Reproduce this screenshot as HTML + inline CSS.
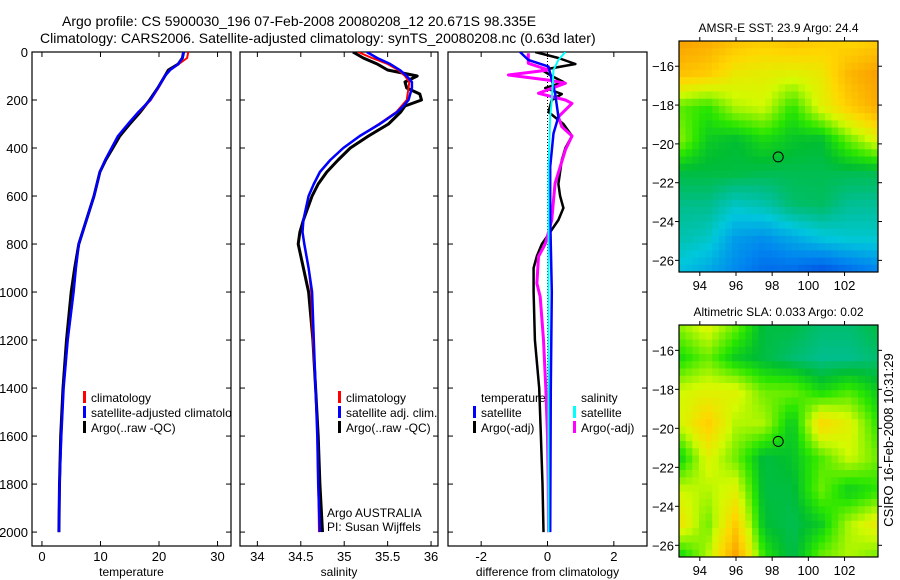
<!DOCTYPE html>
<html><head><meta charset="utf-8">
<style>
html,body{margin:0;padding:0;background:#fff;}
svg{display:block;font-family:"Liberation Sans",sans-serif;}
text{fill:#000;}
</style></head>
<body>
<svg id="fig" width="900" height="580" viewBox="0 0 900 580" xmlns="http://www.w3.org/2000/svg">
<defs>
<clipPath id="c1"><rect x="32" y="52" width="199" height="494"/></clipPath>
<clipPath id="c2"><rect x="240" y="52" width="198" height="494"/></clipPath>
<clipPath id="c3"><rect x="448" y="52" width="199" height="494"/></clipPath>
</defs>
<text x="62" y="26" font-size="14">Argo profile: CS 5900030_196 07-Feb-2008 20080208_12 20.671S 98.335E</text>
<text x="40" y="43" font-size="14">Climatology: CARS2006. Satellite-adjusted climatology: synTS_20080208.nc (0.63d later)</text>
<g id="plots"></g>
<text x="893" y="440" font-size="13" transform="rotate(-90 893 440)" text-anchor="middle">CSIRO 16-Feb-2008 10:31:29</text>
</svg>
<script>
// ---- Profile data ----
const depthT = [0,25,50,75,100,150,200,250,300,350,400,450,500,600,700,800,900,1000,1200,1400,1600,1800,2000];
const tempArgo = [24.2,24.0,23.3,21.6,21.0,19.8,18.4,16.8,15.0,13.3,12.1,10.9,9.9,8.9,7.6,6.3,5.6,5.0,4.2,3.6,3.2,3.0,2.9];
const tempClim = [25.0,24.8,23.4,21.9,21.0,19.9,18.6,16.6,14.7,13.0,11.9,10.8,9.9,8.9,7.6,6.3,5.8,5.4,4.4,3.7,3.3,3.0,2.9];
const tempSat  = [24.2,24.0,23.3,21.9,21.0,19.8,18.5,16.5,14.7,13.0,11.9,10.8,9.9,8.9,7.6,6.3,5.8,5.4,4.4,3.7,3.3,3.0,2.9];
const depthS = [0,25,50,75,100,125,150,175,200,225,250,300,350,400,450,500,550,600,700,750,800,900,1000,1200,1400,1600,1800,2000];
const salArgo = [35.10,35.22,35.38,35.50,35.84,35.70,35.72,35.87,35.89,35.70,35.65,35.51,35.28,35.07,34.93,34.80,34.70,34.63,34.53,34.49,34.47,34.53,34.59,34.64,34.67,34.70,34.72,34.75];
const salClim = [35.16,35.32,35.50,35.62,35.70,35.75,35.74,35.73,35.72,35.66,35.60,35.40,35.18,34.99,34.84,34.72,34.65,34.59,34.53,34.52,34.54,34.59,34.62,34.64,34.67,34.69,34.70,34.71];
const salSat  = [35.26,35.38,35.53,35.64,35.72,35.78,35.78,35.76,35.74,35.68,35.61,35.41,35.18,34.99,34.84,34.72,34.65,34.59,34.53,34.52,34.54,34.59,34.63,34.65,34.67,34.69,34.70,34.72];
const depthDT = [0,25,50,75,100,125,150,175,200,250,300,350,400,450,550,600,650,700,750,800,850,900,1000,1200,1400,1600,1800,2000];
const diffTArgo = [-0.37,0.33,0.84,-0.17,0.13,0.48,-0.07,0.43,0.13,0.03,0.48,0.74,0.54,0.43,0.33,0.38,0.48,0.33,0.08,-0.17,-0.32,-0.42,-0.42,-0.38,-0.25,-0.2,-0.15,-0.12];
const depthDS = [5,47,75,96,117,130,172,200,214,270,311,350,408,547,617,700,800,852,964,1020,1200,1400,1600,1800,2000];
const diffSArgo = [-0.58,-0.58,0.03,-1.18,0.03,0.54,-0.27,0.54,0.74,0.33,0.43,0.74,0.54,0.23,0.18,0.13,-0.07,-0.27,-0.32,-0.22,-0.12,-0.05,0.0,0.02,0.03];
const depthDTS = [0,33,61,172,270,339,478,686,1000,1400,2000];
const diffTSat  = [-0.83,-0.58,0.03,0.23,0.33,0.18,0.08,0.08,0.13,0.1,0.08];
const depthDSS = [0,33,75,200,270,478,1000,1400,2000];
const diffSSat  = [0.54,0.33,0.18,0.13,0.08,0.03,0.03,0.03,0.03];
const depthTicks = [0,200,400,600,800,1000,1200,1400,1600,1800,2000];
const tempTicks = [0,10,20,30];
const salTicks = [34,34.5,35,35.5,36];
const diffTicks = [-2,0,2];
// ---- Map data (normalised colour values 0..1) ----
const sstGrid = [
 [0.80,0.78,0.74,0.72,0.74,0.72,0.70,0.72],
 [0.74,0.72,0.66,0.65,0.64,0.66,0.76,0.80],
 [0.55,0.52,0.60,0.62,0.52,0.64,0.72,0.78],
 [0.58,0.48,0.46,0.50,0.47,0.46,0.56,0.64],
 [0.45,0.45,0.45,0.44,0.44,0.44,0.44,0.44],
 [0.40,0.40,0.35,0.37,0.42,0.43,0.39,0.39],
 [0.37,0.35,0.26,0.24,0.28,0.32,0.34,0.34],
 [0.32,0.28,0.23,0.18,0.18,0.14,0.18,0.22]];
const slaGrid = [
 [0.58,0.64,0.56,0.45,0.45,0.42,0.42,0.45],
 [0.50,0.56,0.48,0.45,0.42,0.40,0.40,0.42],
 [0.62,0.64,0.64,0.56,0.56,0.50,0.54,0.48],
 [0.62,0.72,0.60,0.60,0.47,0.70,0.64,0.52],
 [0.48,0.64,0.56,0.45,0.47,0.54,0.62,0.56],
 [0.62,0.60,0.64,0.45,0.45,0.56,0.48,0.52],
 [0.68,0.56,0.72,0.46,0.44,0.48,0.60,0.66],
 [0.48,0.60,0.80,0.52,0.44,0.56,0.60,0.56]];
const lonTicks = [94,96,98,100,102];
const latTicks = [-16,-18,-20,-22,-24,-26];
const argoLon = 98.335, argoLat = -20.671;

const NS = "http://www.w3.org/2000/svg";
const root = document.getElementById('plots');
function mk(tag, attrs, parent){const e=document.createElementNS(NS,tag);for(const k in attrs)e.setAttribute(k,attrs[k]);(parent||root).appendChild(e);return e;}
function txt(x,y,s,size,anchor,parent){const t=mk('text',{x:x,y:y,'font-size':size,'text-anchor':anchor||'start'},parent);t.textContent=s;return t;}

const Y0=52,Y1=546,DMAX=2058;
const yD = d => Y0 + d/DMAX*(Y1-Y0);

function panel(name,x0,x1,xmin,xmax,ticks,xlabel,clip,showY){
  const xs = v => x0 + (v-xmin)/(xmax-xmin)*(x1-x0);
  const g = mk('g',{});
  
  
  const fr = mk('rect',{x:x0,y:Y0,width:x1-x0,height:Y1-Y0,fill:'none',stroke:'#000','stroke-width':1.2},g);
  
  
  depthTicks.forEach(d=>{
    const y=yD(d);
    mk('line',{x1:x0,x2:x0+5,y1:y,y2:y,stroke:'#000'},g);
    mk('line',{x1:x1-5,x2:x1,y1:y,y2:y,stroke:'#000'},g);
    if(showY){const t=txt(x0-4,y+5,String(d),13,'end',g);
      
      }
  });
  ticks.forEach(v=>{
    const x=xs(v);
    mk('line',{x1:x,x2:x,y1:Y1,y2:Y1-5,stroke:'#000'},g);
    mk('line',{x1:x,x2:x,y1:Y0,y2:Y0+5,stroke:'#000'},g);
    const t=txt(x,Y1+15,String(v),13,'middle',g);
    
    
  });
  const xl=txt((x0+x1)/2,Y1+30,xlabel,12,'middle',g);
  
  
  return {g:g,xs:xs,clip:clip};
}
function line(p,depths,vals,color,w,name){
  const pts=depths.map((d,i)=>p.xs(vals[i]).toFixed(1)+','+yD(d).toFixed(1)).join(' ');
  const l=mk('polyline',{points:pts,fill:'none',stroke:color,'stroke-width':w,'clip-path':'url(#'+p.clip+')','stroke-linejoin':'round'},p.g);
  
  
}
function legend(g,x,y,items){
  items.forEach((it,i)=>{
    const yy=y+i*15;
    if(it.c){const m=mk('rect',{x:x,y:yy-6,width:3,height:12,fill:it.c},g);
      
      }
    const t=txt(x+8,yy+5,it.t,12,'start',g);
    
    
  });
}

// Panel 1
const p1=panel('temperature-panel',32,231,-1.7,32.3,tempTicks,'temperature','c1',true);
line(p1,depthT,tempArgo,'#000',3,'argo-temperature-line');
line(p1,depthT,tempClim,'#f00',2,'climatology-temperature-line');
line(p1,depthT,tempSat,'#00f',2.5,'satellite-temperature-line');
const lg1=mk('g',{'clip-path':'url(#c1)'},p1.g);


legend(lg1,83,397,[{c:'#f00',t:'climatology'},{c:'#00f',t:'satellite-adjusted climatology'},{c:'#000',t:'Argo(..raw -QC)'}]);

// Panel 2
const p2=panel('salinity-panel',240,438,33.8,36.08,salTicks,'salinity','c2',false);
line(p2,depthS,salArgo,'#000',3,'argo-salinity-line');
line(p2,depthS,salClim,'#f00',2,'climatology-salinity-line');
line(p2,depthS,salSat,'#00f',2.5,'satellite-salinity-line');
const lg2=mk('g',{},p2.g);


legend(lg2,338,397,[{c:'#f00',t:'climatology'},{c:'#00f',t:'satellite adj. clim.'},{c:'#000',t:'Argo(..raw -QC)'}]);
const a1=txt(327,517,'Argo AUSTRALIA',12,'start',p2.g);


const a2=txt(327,531,'PI: Susan Wijffels',12,'start',p2.g);



// Panel 3
const p3=panel('difference-panel',448,647,-3,3,diffTicks,'difference from climatology','c3',false);
mk('line',{x1:p3.xs(0),x2:p3.xs(0),y1:Y0,y2:yD(2000),stroke:'#000','stroke-dasharray':'1,2'},p3.g);
line(p3,depthDT,diffTArgo,'#000',2.5,'argo-temp-diff-line');
line(p3,depthDS,diffSArgo,'#f0f',3,'argo-sal-diff-line');
line(p3,depthDTS,diffTSat,'#00f',2.5,'satellite-temp-diff-line');
line(p3,depthDSS,diffSSat,'#0ff',2,'satellite-sal-diff-line');
const lg3=mk('g',{},p3.g);


legend(lg3,473,397,[{t:'temperature'},{c:'#00f',t:'satellite'},{c:'#000',t:'Argo(-adj)'}]);
legend(lg3,573,397,[{t:'salinity'},{c:'#0ff',t:'satellite'},{c:'#f0f',t:'Argo(-adj)'}]);

// ---- Maps ----
function jet(v){
  const stops=[[0.10,[0,60,220]],[0.22,[0,130,240]],[0.33,[0,200,220]],[0.40,[0,190,140]],[0.46,[0,190,50]],[0.52,[40,230,0]],[0.62,[210,250,0]],[0.70,[255,215,0]],[0.80,[250,160,0]],[0.90,[240,110,0]]];
  if(v<=stops[0][0])return stops[0][1];
  for(let i=1;i<stops.length;i++){if(v<=stops[i][0]){const a=stops[i-1],b=stops[i];const t=(v-a[0])/(b[0]-a[0]);return a[1].map((c,k)=>Math.round(c+(b[1][k]-c)*t));}}
  return stops[stops.length-1][1];
}
function sample(grid,u,v){
  const n=grid.length,m=grid[0].length;
  const fx=Math.min(Math.max(u*(m-1),0),m-1),fy=Math.min(Math.max(v*(n-1),0),n-1);
  const i=Math.floor(fy),j=Math.floor(fx),i2=Math.min(i+1,n-1),j2=Math.min(j+1,m-1);
  const ty=fy-i,tx=fx-j;
  return grid[i][j]*(1-tx)*(1-ty)+grid[i][j2]*tx*(1-ty)+grid[i2][j]*(1-tx)*ty+grid[i2][j2]*tx*ty;
}
function map(name,title,grid,x0,y0,x1,y1,titleY){
  const lonMin=92.85,lonMax=103.85;
  const latTop=-14.7,latBot=-26.6;
  const g=mk('g',{});
  
  
  const nx=30,ny=32,cw=(x1-x0)/nx,ch=(y1-y0)/ny;
  for(let r=0;r<ny;r++)for(let c=0;c<nx;c++){
    const col=jet(sample(grid,(c+0.5)/nx,(r+0.5)/ny));
    mk('rect',{x:(x0+c*cw).toFixed(2),y:(y0+r*ch).toFixed(2),width:(cw+0.5).toFixed(2),height:(ch+0.5).toFixed(2),fill:'rgb('+col.join(',')+')'},g);
  }
  mk('rect',{x:x0,y:y0,width:x1-x0,height:y1-y0,fill:'none',stroke:'#000','stroke-width':1.2},g);
  const xs=l=>x0+(l-lonMin)/(lonMax-lonMin)*(x1-x0);
  const ys=l=>y0+(latTop-l)/(latTop-latBot)*(y1-y0);
  lonTicks.forEach(l=>{const x=xs(l);
    mk('line',{x1:x,x2:x,y1:y1,y2:y1+4,stroke:'#000'},g);
    mk('line',{x1:x,x2:x,y1:y0,y2:y0-4,stroke:'#000'},g);
    const t=txt(x,y1+18,String(l),13,'middle',g);
    
    });
  latTicks.forEach(l=>{const y=ys(l);
    mk('line',{x1:x0-4,x2:x0,y1:y,y2:y,stroke:'#000'},g);
    mk('line',{x1:x1,x2:x1+4,y1:y,y2:y,stroke:'#000'},g);
    const t=txt(x0-5,y+5,String(l).replace('-','\u2212'),13,'end',g);
    
    });
  const c=mk('circle',{cx:xs(argoLon),cy:ys(argoLat),r:5,fill:'none',stroke:'#000','stroke-width':1},g);
  
  
  const tt=txt((x0+x1)/2,titleY,title,12,'middle',g);
  
  
}
map('sst-map','AMSR-E SST: 23.9 Argo: 24.4',sstGrid,679,41,878,272,32);
map('sla-map','Altimetric SLA: 0.033 Argo: 0.02',slaGrid,679,325,878,557,316);
</script>
</body></html>
